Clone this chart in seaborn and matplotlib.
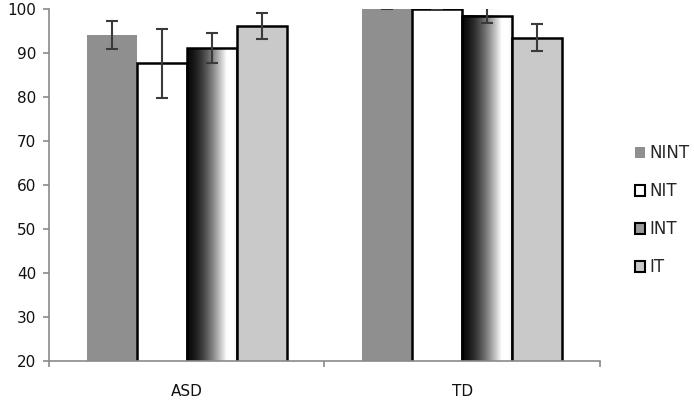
import numpy as np
import pandas as pd
import seaborn as sns
import matplotlib.pyplot as plt
from matplotlib.patches import Patch

sns.set_theme(style="white")
plt.rcParams['font.family'] = ['DejaVu Sans']

groups = ['ASD', 'TD']
conditions = ['NINT', 'NIT', 'INT', 'IT']
means = {'NINT': [94.1, 100.0], 'NIT': [87.6, 100.0], 'INT': [91.1, 98.5], 'IT': [96.1, 93.5]}
errs = {'NINT': [3.2, 0.1], 'NIT': [7.8, 0.0], 'INT': [3.5, 1.6], 'IT': [3.0, 3.0]}

rows = []
for c in conditions:
    for g, m, e in zip(groups, means[c], errs[c]):
        rows.append({'group': g, 'condition': c, 'score': m, 'err': e})
df = pd.DataFrame(rows)

fills = {'NINT': '#8f8f8f', 'NIT': '#ffffff', 'INT': '#ffffff', 'IT': '#c9c9c9'}

fig = plt.figure(figsize=(6.94, 4.05), dpi=100)
ax = fig.add_axes([0.0705, 0.109, 0.794, 0.869])

sns.barplot(data=df, x='group', y='score', hue='condition', order=groups,
            hue_order=conditions, palette=fills, width=0.727, errorbar=None,
            saturation=1, legend=False, ax=ax)

ax.set_xlim(-0.5, 1.5)
ax.set_ylim(20, 100)
ybot = ax.get_ylim()[0]

# style bars, gradient fill for INT, error bars
t = np.linspace(0, 1, 100)
grad = np.where(t < 0.78, 0.04 + 0.96 * (t / 0.78) ** 1.6, 1.0 - 0.5 * np.clip(t - 0.9, 0, None))[None, :]
for i, c in enumerate(conditions):
    cont = ax.containers[i]
    for patch, (_, r) in zip(cont.patches, df[df.condition == c].iterrows()):
        x0 = patch.get_x()
        w = patch.get_width()
        h = patch.get_height()
        if c == 'NINT':
            patch.set_edgecolor('none')
        else:
            patch.set_edgecolor('black')
            patch.set_linewidth(1.8)
        patch.set_zorder(2)
        if c == 'INT':
            patch.set_facecolor('none')
            ax.imshow(grad, extent=[x0, x0 + w, ybot, h], cmap='gray', vmin=0, vmax=1,
                      aspect='auto', zorder=1.5, interpolation='bilinear')
        ax.errorbar(x0 + w / 2, r['score'], yerr=r['err'], fmt='none', ecolor='#3a3a3a',
                    elinewidth=1.5, capsize=4, capthick=1.5, zorder=3)

ax.set_xlim(-0.5, 1.5)
ax.set_ylim(20, 100)
ax.set_yticks(range(20, 101, 10))
ax.set_xlabel('')
ax.set_ylabel('')

for s in ['top', 'right']:
    ax.spines[s].set_visible(False)
for s in ['left', 'bottom']:
    ax.spines[s].set_color('#8a8a8a')
    ax.spines[s].set_linewidth(1.2)

ax.tick_params(axis='y', which='major', left=True, length=4.3, width=1.2, color='#8a8a8a',
               labelsize=11, pad=5, labelcolor='#111111')
ax.tick_params(axis='x', which='major', bottom=False, length=0, labelsize=11, pad=17,
               labelcolor='#111111')
ax.set_xticks([-0.5, 0.5, 1.5], minor=True)
ax.tick_params(axis='x', which='minor', bottom=True, length=4.3, width=1.2, color='#8a8a8a')

handles = [
    Patch(facecolor='#8f8f8f', edgecolor='none'),
    Patch(facecolor='white', edgecolor='black', linewidth=1.5),
    Patch(facecolor='#9a9a9a', edgecolor='black', linewidth=1.5),
    Patch(facecolor='#c9c9c9', edgecolor='black', linewidth=1.5),
]
fig.legend(handles, conditions, loc='upper left', bbox_to_anchor=(0.893, 0.681),
           frameon=False, fontsize=12, handlelength=0.6, handleheight=0.6,
           handletextpad=0.25, labelspacing=1.2)

fig.savefig('out.png', dpi=100)
